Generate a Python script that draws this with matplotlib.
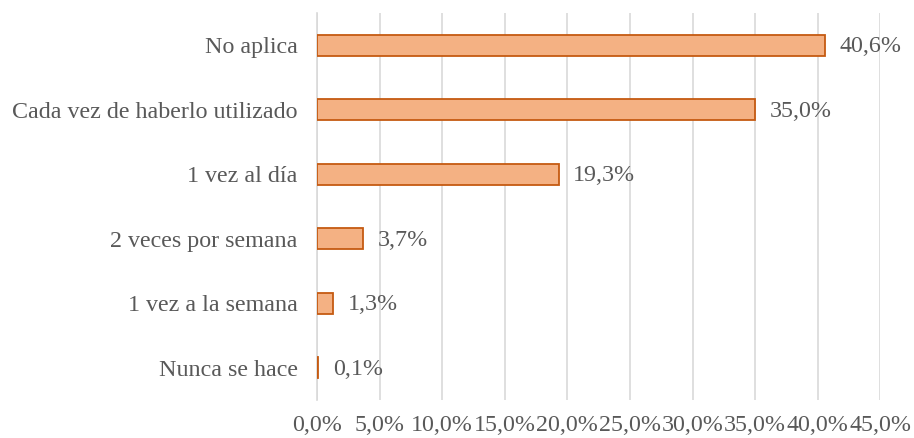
import matplotlib
matplotlib.use("Agg")
import matplotlib.pyplot as plt
from matplotlib.ticker import FuncFormatter, MultipleLocator

categories = ["No aplica", "Cada vez de haberlo utilizado", "1 vez al día",
              "2 veces por semana", "1 vez a la semana", "Nunca se hace"]
values = [40.6, 35.0, 19.3, 3.7, 1.3, 0.1]

plt.rcParams['font.family'] = ['Liberation Serif', 'DejaVu Serif']
text_color = "#595959"
fs = 17.3

fig = plt.figure(figsize=(9.14, 4.38), dpi=100)
ax = fig.add_axes([0.347, 0.087, 0.616, 0.883])

y = list(range(len(categories)))
ax.barh(y, values, height=0.33, color="#F4B183", edgecolor="#C55A11", linewidth=1.3, zorder=3)

for yi, v in zip(y, values):
    ax.annotate(f"{v:.1f}%".replace(".", ","), xy=(v, yi), xytext=(10.5, -1),
                textcoords="offset points", va="center", ha="left",
                fontsize=fs, color=text_color)

ax.set_xlim(0, 45)
ax.set_ylim(len(categories) - 0.5, -0.5)
ax.set_yticks(y)
ax.set_yticklabels(categories)
ax.xaxis.set_major_locator(MultipleLocator(5))
ax.xaxis.set_major_formatter(FuncFormatter(lambda x, p: f"{x:.1f}%".replace(".", ",")))
ax.tick_params(axis="both", length=0, labelsize=fs, colors=text_color)
ax.tick_params(axis="y", pad=14)
ax.tick_params(axis="x", pad=11)
ax.grid(axis="x", color="#D9D9D9", linewidth=1.2, zorder=0)
for s in ["top", "right", "bottom"]:
    ax.spines[s].set_visible(False)
ax.spines["left"].set_color("#D9D9D9")
ax.spines["left"].set_linewidth(1.2)

fig.savefig("out.png", dpi=100)
